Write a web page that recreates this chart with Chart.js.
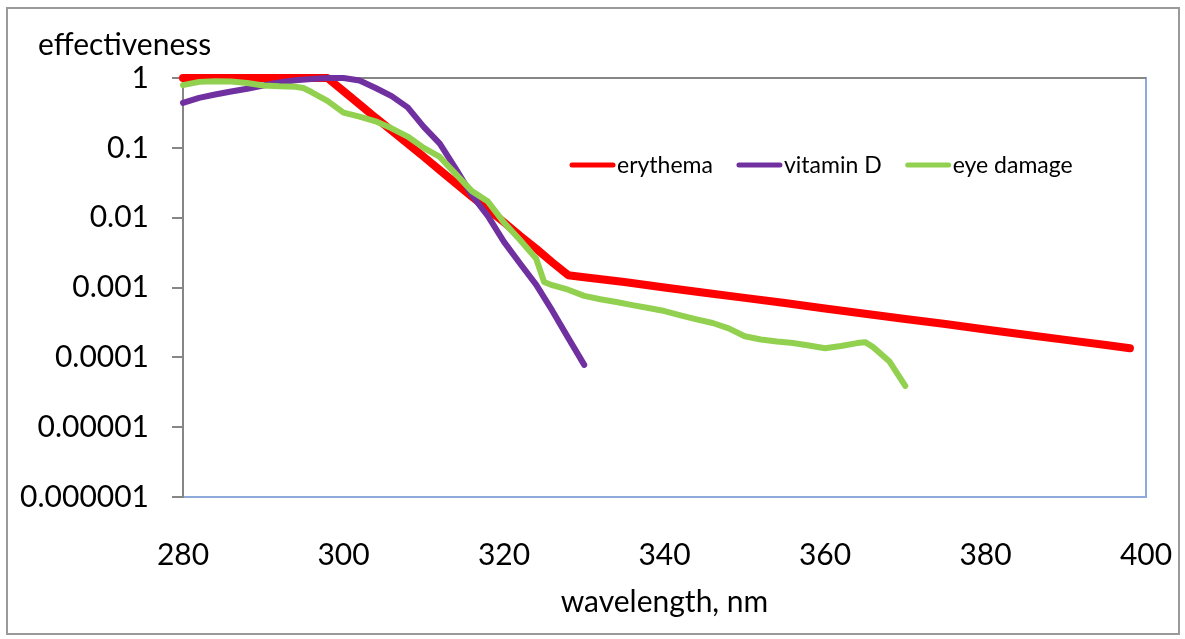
<!DOCTYPE html>
<html>
<head>
<meta charset="utf-8">
<script src="https://cdn.jsdelivr.net/npm/chart.js@4.4.1/dist/chart.umd.min.js"></script>
<style>
  html, body { margin: 0; padding: 0; background: #fff; }
</style>
</head>
<body>
<canvas id="myChart" width="1185" height="639"></canvas>
<script>
// values (wavelength in nm, effectiveness on a log axis)
const erythemaNm  = [280, 285, 290, 295, 298, 300, 302, 304, 306, 308, 310, 312, 314, 316, 318, 320, 322, 324, 326, 328, 330, 335, 340, 345, 350, 355, 360, 365, 370, 375, 380, 385, 390, 395, 398];
const erythemaVal = [1, 1, 1, 1, 1, 0.65, 0.42, 0.27, 0.177, 0.115, 0.0745, 0.048, 0.031, 0.020, 0.0132, 0.0086, 0.0055, 0.0036, 0.0023, 0.0015, 0.0014, 0.0012, 0.001, 0.00084, 0.00071, 0.0006, 0.0005, 0.00042, 0.000355, 0.0003, 0.00025, 0.00021, 0.000178, 0.00015, 0.000135];

const vitaminDNm  = [280, 282, 284, 286, 288, 290, 292, 294, 296, 298, 300, 302, 304, 306, 308, 310, 312, 314, 316, 318, 320, 322, 324, 326, 328, 330];
const vitaminDVal = [0.44, 0.52, 0.58, 0.64, 0.70, 0.78, 0.86, 0.93, 0.97, 1, 1, 0.92, 0.72, 0.55, 0.38, 0.20, 0.115, 0.05, 0.021, 0.0105, 0.0045, 0.0022, 0.0011, 0.00047, 0.00019, 0.000078];

const eyeNm  = [280, 282, 284, 286, 288, 290, 292, 294, 295, 296, 298, 300, 302, 304, 306, 308, 310, 312, 314, 316, 318, 320, 322, 324, 325, 326, 328, 330, 332, 334, 336, 338, 340, 342, 344, 346, 348, 350, 352, 354, 356, 358, 360, 362, 364, 365, 366, 368, 370];
const eyeVal = [0.79, 0.88, 0.90, 0.89, 0.85, 0.78, 0.76, 0.75, 0.72, 0.63, 0.47, 0.32, 0.28, 0.24, 0.19, 0.145, 0.10, 0.074, 0.042, 0.024, 0.017, 0.0085, 0.0048, 0.0026, 0.0012, 0.00108, 0.00093, 0.00076, 0.00068, 0.00062, 0.00056, 0.00051, 0.00046, 0.0004, 0.00035, 0.00031, 0.00026, 0.0002, 0.00018, 0.000168, 0.00016, 0.000148, 0.000135, 0.000145, 0.00016, 0.000165, 0.00014, 0.000088, 0.000039];

const seriesNames = ['erythema', 'vitamin D', 'eye damage'];
const xTicks = [280, 300, 320, 340, 360, 380, 400];
const yTicks = [0.000001, 0.00001, 0.0001, 0.001, 0.01, 0.1, 1];
const yTickLabels = ['0.000001', '0.00001', '0.0001', '0.001', '0.01', '0.1', '1'];

function pts(xs, ys) {
    return xs.map((x, i) => ({ x: x, y: ys[i] }));
}

const fontName = 'Lato, "Open Sans", sans-serif';

const decor = {
    id: 'decor',
    beforeDraw(chart) {
        const c = chart.ctx, a = chart.chartArea;
        c.save();
        c.fillStyle = '#fff';
        c.fillRect(0, 0, chart.width, chart.height);
        c.strokeStyle = '#9a9a9a';
        c.lineWidth = 2;
        c.strokeRect(7, 8, chart.width - 13, chart.height - 13);
        c.strokeStyle = '#8eaadb';
        c.strokeRect(a.left, a.top, a.right - a.left, a.bottom - a.top);
        c.restore();
    },
    afterDraw(chart) {
        const c = chart.ctx, a = chart.chartArea;
        c.save();
        c.fillStyle = '#000';
        c.font = '30px ' + fontName;
        c.textBaseline = 'alphabetic';
        c.textAlign = 'left';
        c.fillText('effectiveness', a.left - 145, a.top - 23);

        // legend inside the plot area
        c.font = '23px ' + fontName;
        let x = a.left + 389;
        const y = a.top + 87;
        chart.data.datasets.forEach(ds => {
            c.strokeStyle = ds.borderColor;
            c.lineWidth = 5;
            c.lineCap = 'round';
            c.beginPath();
            c.moveTo(x, y);
            c.lineTo(x + 41, y);
            c.stroke();
            c.fillText(ds.label, x + 45, y + 8);
            x += 45 + c.measureText(ds.label).width + 26;
        });
        c.restore();
    }
};

const ctx = document.getElementById('myChart').getContext('2d');
const myChart = new Chart(ctx, {
    type: 'line',
    data: {
        datasets: [{
            label: seriesNames[0],
            data: pts(erythemaNm, erythemaVal),
            borderColor: '#ff0000',
            borderWidth: 8,
            order: 2
        }, {
            label: seriesNames[1],
            data: pts(vitaminDNm, vitaminDVal),
            borderColor: '#7030a0',
            borderWidth: 6,
            order: 1
        }, {
            label: seriesNames[2],
            data: pts(eyeNm, eyeVal),
            borderColor: '#92d050',
            borderWidth: 6,
            order: 0
        }]
    },
    options: {
        responsive: false,
        animation: false,
        devicePixelRatio: 1,
        layout: { padding: { top: 78, right: 39, left: 0, bottom: 0 } },
        elements: {
            point: { radius: 0 },
            line: { tension: 0, fill: false, borderCapStyle: 'round', borderJoinStyle: 'round' }
        },
        datasets: { line: { clip: false } },
        plugins: {
            legend: { display: false },
            tooltip: { enabled: false }
        },
        scales: {
            x: {
                type: 'linear',
                min: 280,
                max: 400,
                afterBuildTicks: s => { s.ticks = xTicks.map(v => ({ value: v })); },
                afterFit: s => { s.height = 142; },
                grid: {
                    display: true,
                    drawOnChartArea: false,
                    drawTicks: true,
                    tickLength: 38,
                    color: 'rgba(0,0,0,0)',
                    tickColor: 'rgba(0,0,0,0)'
                },
                border: { color: '#8eaadb', width: 2 },
                ticks: { color: '#000', font: { family: fontName, size: 30 }, padding: 2, maxRotation: 0 },
                title: {
                    display: true,
                    text: 'wavelength, nm',
                    color: '#000',
                    font: { family: fontName, size: 30 },
                    padding: { top: 0, bottom: 19 }
                }
            },
            y: {
                type: 'logarithmic',
                min: 0.000001,
                max: 1,
                afterBuildTicks: s => { s.ticks = yTicks.map(v => ({ value: v })); },
                afterFit: s => { s.width = 183; },
                grid: {
                    color: c => (c.tick && c.tick.value === 1 ? '#868686' : 'rgba(0,0,0,0)'),
                    lineWidth: 2,
                    tickColor: '#868686',
                    tickLength: 11,
                    drawTicks: true
                },
                border: { color: '#868686', width: 2 },
                ticks: {
                    color: '#000',
                    font: { family: fontName, size: 30 },
                    padding: 23,
                    callback: (v, i) => yTickLabels[i]
                }
            }
        }
    },
    plugins: [decor]
});
</script>
</body>
</html>
